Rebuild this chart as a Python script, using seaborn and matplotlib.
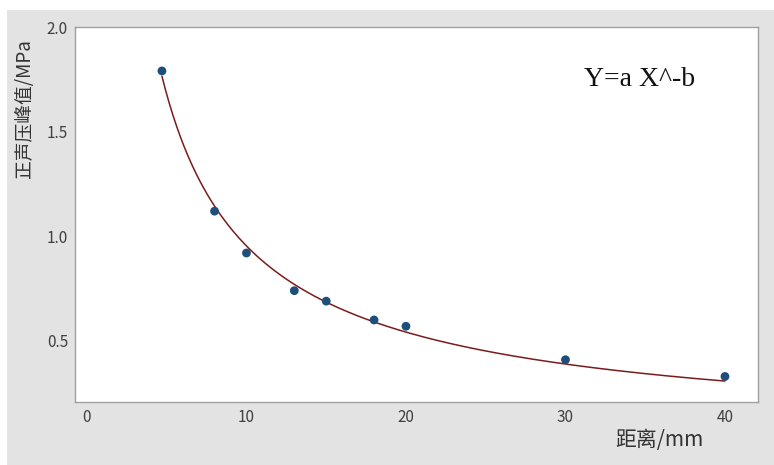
import numpy as np
import pandas as pd
import matplotlib
matplotlib.use("Agg")
import matplotlib.pyplot as plt
from matplotlib.patches import Rectangle
import seaborn as sns

# ---- data ----
distance_mm = [4.7, 8, 10, 13, 15, 18, 20, 30, 40]
peak_mpa = [1.79, 1.12, 0.92, 0.74, 0.69, 0.60, 0.57, 0.41, 0.33]
x_ticks = [0, 10, 20, 30, 40]
y_ticks = [0.5, 1.0, 1.5, 2.0]
x_label = "距离/mm"
y_label = "正声压峰值/MPa"
equation = "Y=a X^-b"

df = pd.DataFrame({"distance": distance_mm, "peak": peak_mpa})

# ---- power-law fit Y = a X^-b (nonlinear least squares, Gauss-Newton) ----
xv = np.asarray(distance_mm, float)
yv = np.asarray(peak_mpa, float)
slope, inter = np.polyfit(np.log(xv), np.log(yv), 1)
a, b = np.exp(inter), -slope
for _ in range(50):
    f = a * xv ** (-b)
    J = np.column_stack([xv ** (-b), -a * np.log(xv) * xv ** (-b)])
    r = yv - f
    step, *_ = np.linalg.lstsq(J, r, rcond=None)
    a += step[0]
    b += step[1]
xs = np.linspace(xv.min(), xv.max(), 300)
fit_df = pd.DataFrame({"distance": xs, "peak": a * xs ** (-b)})

sns.set_theme(style="white")
plt.rcParams["font.family"] = ["Noto Sans CJK SC", "DejaVu Sans"]

W, H = 774, 465
fig = plt.figure(figsize=(W / 100, H / 100), dpi=100, facecolor="white")
bg = Rectangle((7 / W, 0), 1, (H - 10) / H, transform=fig.transFigure,
               facecolor="#e3e3e3", edgecolor="none", zorder=-10)
fig.patches.append(bg)
L, R, T, B = 75, 758, 27, 402
ax = fig.add_axes([L / W, (H - B) / H, (R - L) / W, (B - T) / H])
ax.set_zorder(5)
ax.set_facecolor("white")

sns.lineplot(data=fit_df, x="distance", y="peak", ax=ax, color="#7a1c1c", lw=1.1)
sns.scatterplot(data=df, x="distance", y="peak", ax=ax, color="#1d4f7a", s=40,
                edgecolor="none", zorder=3)

ax.set_xlim(-0.75, 42.07)
ax.set_ylim(0.208, 2.0)
ax.set_xticks(x_ticks)
ax.set_yticks(y_ticks)
ax.set_xticklabels([str(t) for t in x_ticks])
ax.set_yticklabels([f"{t:.1f}" for t in y_ticks])
ax.tick_params(direction="out", length=3, width=0.8, color="#9a9a9a",
               labelcolor="#404040", labelsize=11, pad=2)
for s in ax.spines.values():
    s.set_color("#a0a0a0")
    s.set_linewidth(1.0)

ax.set_xlabel(x_label, fontsize=15, color="#333333", va="center")
ax.xaxis.set_label_coords((660 - L) / (R - L), (B - 440) / (B - T))
ax.set_ylabel(y_label, fontsize=13.5, color="#333333", va="center")
ax.yaxis.set_label_coords((24 - L) / (R - L), (B - 109) / (B - T))

ax.text((640 - L) / (R - L), (B - 80) / (B - T), equation, transform=ax.transAxes,
        ha="center", va="center", fontsize=20, family="Liberation Serif", color="#111111")

fig.savefig("out.png", dpi=100, facecolor=fig.get_facecolor())
